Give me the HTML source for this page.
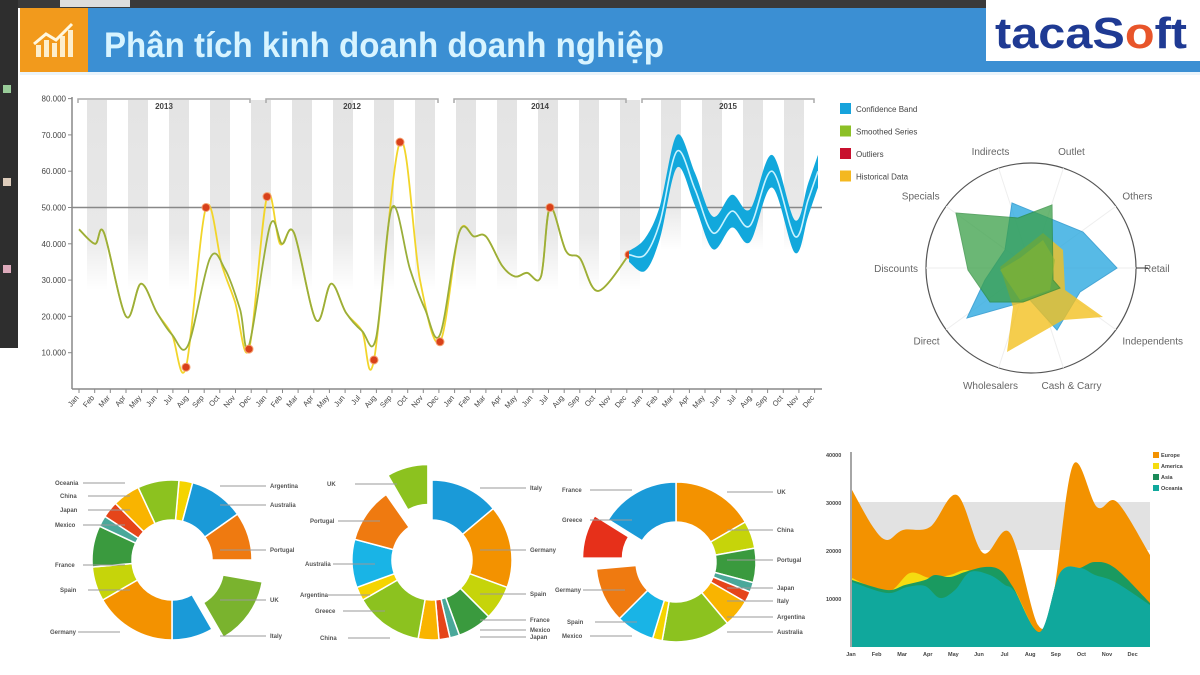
<!DOCTYPE html>
<html><head><meta charset="utf-8"><style>
body{margin:0;width:1200px;height:675px;overflow:hidden;background:#fff;font-family:"Liberation Sans",sans-serif;}
svg{position:absolute;left:0;top:0}
</style></head><body>
<svg id="s" width="1200" height="675" viewBox="0 0 1200 675" xmlns="http://www.w3.org/2000/svg">
<rect x="0" y="0" width="1200" height="8" fill="#3a3a3a"/>
<rect x="0" y="0" width="18" height="348" fill="#2e2e2e"/>
<rect x="60" y="0" width="70" height="7" fill="#ddd"/>
<rect x="3" y="85" width="8" height="8" fill="#9c9"/><rect x="3" y="178" width="8" height="8" fill="#dcb"/><rect x="3" y="265" width="8" height="8" fill="#dab"/>
<rect x="20" y="8" width="1180" height="64" fill="#3b8fd3"/>
<rect x="20" y="72" width="1180" height="3" fill="#eaf4fb"/>
<rect x="20" y="8" width="68" height="64" fill="#f29a1c"/>
<g fill="#fff8e0" opacity="0.9"><rect x="36" y="45" width="5" height="12"/><rect x="44" y="40" width="5" height="17"/><rect x="52" y="43" width="5" height="14"/><rect x="60" y="36" width="5" height="21"/><rect x="68" y="30" width="5" height="27"/></g>
<polyline points="34,44 46,34 56,40 72,24" stroke="#fff8e0" stroke-width="3" fill="none"/>
<text x="104" y="57" font-size="35" font-weight="bold" fill="#d8f4ff" font-family="Liberation Sans Narrow,Liberation Sans,sans-serif" textLength="560" lengthAdjust="spacingAndGlyphs">Phân tích kinh doanh doanh nghiệp</text>
<rect x="986" y="0" width="214" height="61" fill="#fff"/>
<text x="995" y="48" font-size="44" font-weight="bold" fill="#1f3a93" textLength="192" lengthAdjust="spacingAndGlyphs">taca<tspan>S</tspan><tspan fill="#e8552a">o</tspan>ft</text>
<g id="g"></g>
</svg>
<script>
var g=document.getElementById('g');var h='';
function cr(p){var d='M'+p[0][0]+','+p[0][1];for(var i=0;i<p.length-1;i++){var p0=p[i-1]||p[i],p1=p[i],p2=p[i+1],p3=p[i+2]||p2;
d+=' C'+(p1[0]+(p2[0]-p0[0])/6).toFixed(1)+','+(p1[1]+(p2[1]-p0[1])/6).toFixed(1)+' '+(p2[0]-(p3[0]-p1[0])/6).toFixed(1)+','+(p2[1]-(p3[1]-p1[1])/6).toFixed(1)+' '+p2[0]+','+p2[1];}return d;}
function Y(v){return 389-v*3.63;}
h+='<defs><linearGradient id="fd" x1="0" y1="0" x2="0" y2="1"><stop offset="0" stop-color="#e4e4e4"/><stop offset="0.7" stop-color="#e8e8e8"/><stop offset="1" stop-color="#fff"/></linearGradient></defs>';
for(var x=87;x<800;x+=41){h+='<rect x="'+x+'" y="100" width="20" height="'+(x<640?190:150)+'" fill="url(#fd)"/>';}
h+='<line x1="72" y1="97" x2="72" y2="389" stroke="#888" stroke-width="1.5"/><line x1="72" y1="389" x2="822" y2="389" stroke="#888" stroke-width="1.5"/>';
for(var v=1;v<=8;v++){var y=Y(v*10);h+='<line x1="68" y1="'+y+'" x2="72" y2="'+y+'" stroke="#888"/><text x="66" y="'+(y+3)+'" font-size="8" text-anchor="end" fill="#444">'+v*10+'.000</text>';}
h+='<line x1="72" y1="'+Y(50)+'" x2="822" y2="'+Y(50)+'" stroke="#888" stroke-width="1.5"/>';
var yrs=['2013','2012','2014','2015'];for(var k=0;k<4;k++){var a=78+k*188,b=a+172;h+='<path d="M'+a+',103 V99 H'+b+' V103" stroke="#aaa" fill="none" stroke-width="1.5"/><text x="'+(a+86)+'" y="109" font-size="8" font-weight="bold" text-anchor="middle" fill="#444">'+yrs[k]+'</text>';}
var M=['Jan','Feb','Mar','Apr','May','Jun','Jul','Aug','Sep','Oct','Nov','Dec'];
for(var i=0;i<48;i++){var x=(79+i*15.65).toFixed(1);h+='<line x1="'+x+'" y1="389" x2="'+x+'" y2="393" stroke="#888"/><text transform="translate('+x+',398) rotate(-50)" font-size="7.5" text-anchor="end" fill="#444">'+M[i%12]+'</text>';}
var Hd=[[79,44],[95,40],[104,43],[126,20],[141,29],[157,21],[172,15],[186,6],[206,50],[222,34],[235,24],[249,11],[267,53],[280,40],[294,43],[316,19],[331,29],[346,21],[362,16],[374,8],[400,68],[420,30],[440,13],[459,43],[474,42],[486,42],[502,34],[515,31],[527,32],[541,31],[550,50],[566,38],[580,36],[598,27],[629,37]];
var Gd=[[79,44],[95,40],[104,43],[126,20],[141,29],[157,21],[172,15],[188,12],[210,36],[225,33],[240,22],[249,12],[270,45],[282,40],[294,43],[316,19],[331,29],[346,21],[362,16],[376,14],[392,50],[410,33],[425,22],[440,15],[459,43],[474,42],[486,42],[502,34],[515,31],[527,32],[541,31],[550,50],[566,38],[580,36],[598,27],[629,37]];
function P(d){return d.map(function(p){return [p[0],+Y(p[1]).toFixed(1)];});}
h+='<path d="'+cr(P(Hd))+'" stroke="#f2d52a" stroke-width="1.8" fill="none"/>';
h+='<path d="'+cr(P(Gd))+'" stroke="#9aae3a" stroke-width="1.8" fill="none"/>';
[[186,6],[206,50],[249,11],[267,53],[374,8],[400,68],[440,13],[550,50],[629,37]].forEach(function(p){h+='<circle cx="'+p[0]+'" cy="'+Y(p[1])+'" r="4" fill="#d8401a" stroke="#f5a070" stroke-width="1"/>';});
var B=[[629,37],[645,37],[660,46],[677,65.5],[695,55],[713,43],[732,49],[750,45],[772,60],[795,42],[808,52],[818,60]];
var up=B.map(function(p){return [p[0],+Y(p[1]+4.5).toFixed(1)];}),dn=B.map(function(p){return [p[0],+Y(p[1]-4.5).toFixed(1)];});
up[0][1]=Y(38);dn[0][1]=Y(35);
var dd=dn.slice().reverse();var pd=cr(up)+' L'+dd[0][0]+','+dd[0][1]+cr(dd).slice(cr(dd).indexOf(' C'))+'Z';
h+='<path d="'+pd+'" fill="#12a8dc"/>';
h+='<path d="'+cr(P(B))+'" stroke="#c8f2ff" stroke-width="1.6" fill="none"/>';
[['#16a3dc','Confidence Band'],['#8cc026','Smoothed Series'],['#c8102e','Outliers'],['#f4b820','Historical Data']].forEach(function(l,i){var y=103+i*22.5;h+='<rect x="840" y="'+y+'" width="11" height="11" fill="'+l[0]+'"/><text x="856" y="'+(y+9)+'" font-size="8" fill="#444">'+l[1]+'</text>';});
var cx=1031,cy=268,R=105;
h+='<circle cx="'+cx+'" cy="'+cy+'" r="'+R+'" fill="none" stroke="#555" stroke-width="1.2"/>';
var lab=['Retail','Independents','Cash & Carry','Wholesalers','Direct','Discounts','Specials','Indirects','Outlet','Others'];
for(var i=0;i<10;i++){var a=i*36*Math.PI/180,c=Math.cos(a),s=Math.sin(a);h+='<line x1="'+cx+'" y1="'+cy+'" x2="'+(cx+R*c)+'" y2="'+(cy+R*s)+'" stroke="#eee"/>';
var lx=cx+(R+26)*c,ly=cy+(R+18)*s+4;var an=Math.abs(c)<0.35?'middle':(c>0?'start':'end');if(an!='middle'){lx=cx+(R+8)*c;}
h+='<text x="'+lx.toFixed(1)+'" y="'+ly.toFixed(1)+'" font-size="10" fill="#666" text-anchor="'+an+'">'+lab[i]+'</text>';}
h+='<line x1="'+(cx+R)+'" y1="'+cy+'" x2="'+(cx+R+12)+'" y2="'+cy+'" stroke="#333"/>';
h+='<polygon points="1012,203 1083,232 1117,268 1080,292 1057,330 1030,300 967,318 985,280 1005,250" fill="#2eaae0" opacity="0.8" stroke="#1a90cc"/>';
h+='<polygon points="1043,233 1063,250 1065,290 1103,317 1063,320 1007,352 1013,307 1000,267" fill="#f2c020" opacity="0.8"/>';
h+='<polygon points="956,213 1018,218 1052,205 1053,280 1060,288 1023,302 990,302 968,270" fill="#3aa048" opacity="0.75" stroke="#2a8a38"/>';
h+='<polygon points="1043,240 1055,260 1050,290 1020,300 1000,270 1020,258" fill="#8ab830" opacity="0.5"/>';
function arc(cx,cy,r1,r2,a0,a1,col,ex){var m=(a0+a1)/2*Math.PI/180;if(ex){cx+=ex*Math.sin(m);cy-=ex*Math.cos(m);}
function pt(r,a){a=a*Math.PI/180;return (cx+r*Math.sin(a)).toFixed(1)+','+(cy-r*Math.cos(a)).toFixed(1);}
var l=(a1-a0)>180?1:0;return '<path d="M'+pt(r2,a0)+' A'+r2+','+r2+' 0 '+l+' 1 '+pt(r2,a1)+' L'+pt(r1,a1)+' A'+r1+','+r1+' 0 '+l+' 0 '+pt(r1,a0)+'Z" fill="'+col+'" stroke="#fff" stroke-width="1.5"/>';}
var C={y:'#f5d400',b:'#1a9ad8',o:'#f39200',or:'#ef7a10',g:'#7ab32e',yg:'#c6d40a',dg:'#3a9a3e',t:'#4aa89a',r:'#e5451a',am:'#f9b400',lg:'#8cc21f',c:'#19b4e6',rd:'#e6301a'};
var D=[[172,560,[['y',5,15],['b',15,55],['or',55,90],['g',100,150,14],['b',150,180],['o',180,240],['yg',240,265],['dg',265,295],['t',295,303],['r',303,315],['am',315,335],['lg',335,365]]],
[432,560,[['b',0,50],['o',50,110],['yg',110,135],['dg',135,160],['t',160,167],['r',167,175],['am',175,190],['lg',190,240],['y',240,250],['c',250,285],['or',285,325],['lg',330,360,16]]],
[676,562,[['o',0,60],['yg',60,80],['dg',80,105],['t',105,112],['r',112,120],['am',120,140],['lg',140,190],['y',190,197],['c',197,225],['or',225,265],['rd',270,302,14],['b',302,360]]]];
D.forEach(function(d){d[2].forEach(function(s){h+=arc(d[0],d[1],40,80,s[1],s[2],C[s[0]],s[3]||0);});});
var L=[[[55,483,'Oceania'],[60,496,'China'],[60,510,'Japan'],[55,525,'Mexico'],[55,565,'France'],[60,590,'Spain'],[50,632,'Germany']],[[270,486,'Argentina'],[270,505,'Australia'],[270,550,'Portugal'],[270,600,'UK'],[270,636,'Italy']],
[[327,484,'UK'],[310,521,'Portugal'],[305,564,'Australia'],[300,595,'Argentina'],[315,611,'Greece'],[320,638,'China']],[[530,488,'Italy'],[530,550,'Germany'],[530,594,'Spain'],[530,620,'France'],[530,630,'Mexico'],[530,637,'Japan']],
[[562,490,'France'],[562,520,'Greece'],[555,590,'Germany'],[567,622,'Spain'],[562,636,'Mexico']],[[777,492,'UK'],[777,530,'China'],[777,560,'Portugal'],[777,588,'Japan'],[777,601,'Italy'],[777,617,'Argentina'],[777,632,'Australia']]];
L.forEach(function(grp,gi){var left=gi%2==0;grp.forEach(function(l){var x=l[0],y=l[1];if(left){h+='<text x="'+x+'" y="'+(y+2)+'" font-size="6" font-weight="bold" fill="#555">'+l[2]+'</text><line x1="'+(x+28)+'" y1="'+y+'" x2="'+(x+70)+'" y2="'+y+'" stroke="#999"/>';}
else{h+='<line x1="'+(x-50)+'" y1="'+y+'" x2="'+(x-4)+'" y2="'+y+'" stroke="#999"/><text x="'+x+'" y="'+(y+2)+'" font-size="6" font-weight="bold" fill="#555">'+l[2]+'</text>';}});});
h+='<rect x="853" y="502" width="297" height="48" fill="#e2e2e2"/>';
h+='<line x1="851" y1="452" x2="851" y2="647" stroke="#888" stroke-width="1.5"/>';
[[40000,455],[30000,503],[20000,551],[10000,599]].forEach(function(t){h+='<text x="826" y="'+(t[1]+2)+'" font-size="5.5" font-weight="bold" fill="#444">'+t[0]+'</text>';});
function area(top,col){var b=cr(top);return '<path d="'+b+' L1150,647 L852,647Z" fill="'+col+'"/>';}
h+=area([[852,490],[873,527],[887,540],[903,530],[930,527],[957,495],[983,553],[1010,533],[1038,625],[1053,597],[1073,465],[1097,507],[1117,502],[1150,555]],'#f39200');
h+=area([[852,578],[887,592],[910,573],[930,578],[950,575],[965,570],[980,573],[993,570],[1013,587],[1040,632],[1060,573],[1080,568],[1103,575],[1150,603]],'#f5dc10');
h+=area([[852,580],[887,590],[905,585],[925,580],[935,575],[950,577],[965,572],[985,567],[1000,570],[1013,587],[1040,632],[1060,573],[1080,568],[1095,562],[1115,568],[1150,603]],'#1a9a60');
h+=area([[852,582],[887,593],[907,587],[925,586],[940,598],[955,590],[970,572],[990,575],[1005,585],[1015,592],[1040,632],[1060,573],[1080,568],[1095,575],[1115,582],[1150,605]],'#10a89c');
['Jan','Feb','Mar','Apr','May','Jun','Jul','Aug','Sep','Oct','Nov','Dec'].forEach(function(m,i){h+='<text x="'+(851+i*25.6)+'" y="656" font-size="5.5" font-weight="bold" fill="#444" text-anchor="middle">'+m+'</text>';});
[['#f39200','Europe'],['#f5dc10','America'],['#1a8a58','Asia'],['#10a89c','Oceania']].forEach(function(l,i){var y=452+i*11;h+='<rect x="1153" y="'+y+'" width="6" height="6" fill="'+l[0]+'"/><text x="1161" y="'+(y+5)+'" font-size="5.5" font-weight="bold" fill="#444">'+l[1]+'</text>';});
g.innerHTML=h;
</script>
</body></html>
